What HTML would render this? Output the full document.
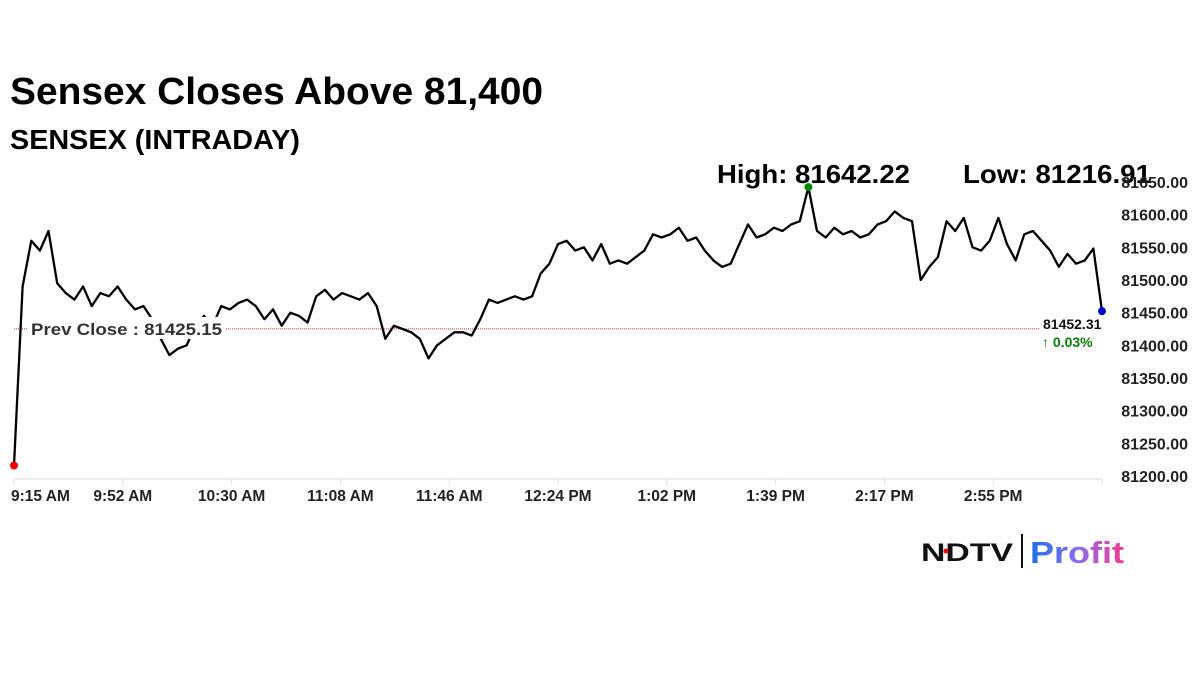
<!DOCTYPE html>
<html><head><meta charset="utf-8">
<style>
html,body{margin:0;padding:0;background:#fff;width:1200px;height:675px;overflow:hidden;font-family:"Liberation Sans",sans-serif}
</style></head>
<body>
<svg id="chart" width="1200" height="675" viewBox="0 0 1200 675" xmlns="http://www.w3.org/2000/svg">
<text x="10" y="104" font-family="Liberation Sans, sans-serif" font-weight="bold" font-size="38" textLength="533" lengthAdjust="spacingAndGlyphs" fill="#000">Sensex Closes Above 81,400</text>
<text x="10" y="149" font-weight="bold" font-size="28" textLength="290" lengthAdjust="spacingAndGlyphs" fill="#000">SENSEX (INTRADAY)</text>
<text x="717" y="183" font-weight="bold" font-size="26" textLength="193" lengthAdjust="spacingAndGlyphs" fill="#000">High: 81642.22</text>
<text x="963" y="183" font-weight="bold" font-size="26" textLength="188" lengthAdjust="spacingAndGlyphs" fill="#000">Low: 81216.91</text>
<g id="axes"></g>
<g id="plot"></g>
<g>
<defs><linearGradient id="pg" x1="0" x2="1" y1="0" y2="0"><stop offset="0" stop-color="#1a73e8"/><stop offset="0.5" stop-color="#8a6cf0"/><stop offset="1" stop-color="#f03c8c"/></linearGradient></defs>
<text x="921" y="561" font-weight="bold" font-size="25" textLength="92" lengthAdjust="spacingAndGlyphs" fill="#111">NDTV</text>
<circle cx="946" cy="551" r="2.5" fill="#e00"/>
<rect x="1021" y="534" width="2" height="34" fill="#111"/>
<text x="1030" y="563" font-weight="bold" font-size="31" textLength="94" lengthAdjust="spacingAndGlyphs" fill="url(#pg)">Profit</text>
</g>
</svg>
<script>
const values = [81216,81490,81560,81545,81575,81495,81480,81470,81490,81460,81480,81475,81490,81470,81455,81460,81440,81410,81385,81395,81400,81430,81445,81430,81460,81455,81465,81470,81460,81440,81455,81430,81450,81445,81435,81475,81485,81470,81480,81475,81470,81480,81460,81410,81430,81425,81420,81410,81380,81400,81410,81420,81420,81415,81440,81470,81465,81470,81475,81470,81475,81510,81525,81555,81560,81545,81550,81530,81555,81525,81530,81525,81535,81545,81570,81565,81570,81580,81560,81565,81545,81530,81520,81525,81555,81585,81565,81570,81580,81575,81585,81590,81642.22,81575,81565,81580,81570,81575,81565,81570,81585,81590,81605,81595,81590,81500,81520,81535,81590,81575,81595,81550,81545,81560,81595,81555,81530,81570,81575,81560,81545,81520,81540,81525,81530,81548,81452.31];
const yTicks = [81200,81250,81300,81350,81400,81450,81500,81550,81600,81650];
const xTickLabels = ["9:15 AM","9:52 AM","10:30 AM","11:08 AM","11:46 AM","12:24 PM","1:02 PM","1:39 PM","2:17 PM","2:55 PM"];
const prevClose = 81425.15;
const changeLabel = "\u2191 0.03%";

const NS="http://www.w3.org/2000/svg";
const x0=14,x1=1102,yMin=81200,yMax=81650,py0=476,py1=182;
const xs=i=>x0+(x1-x0)*i/(values.length-1);
const ys=v=>py0+(v-yMin)*(py1-py0)/(yMax-yMin);
function mk(tag,attrs,parent,text){const e=document.createElementNS(NS,tag);for(const k in attrs)e.setAttribute(k,attrs[k]);if(text!==undefined)e.textContent=text;parent.appendChild(e);return e;}
const axes=document.getElementById('axes'),plot=document.getElementById('plot');
const ax=mk('line',{x1:x0,x2:x1,y1:479,y2:479,stroke:'#ddd','stroke-width':1},axes);


yTicks.forEach(v=>{
  const t=mk('text',{x:1188,y:ys(v)+6,'text-anchor':'end','font-size':16,'font-weight':'bold',fill:'#222'},axes,v.toFixed(2));
  
  
});
xTickLabels.forEach((s,i)=>{
  const x=x0+(x1-x0)*i/10;
  const tk=mk('line',{x1:x,x2:x,y1:479,y2:485,stroke:'#ddd'},axes);
  
  
  const t=mk('text',{x:i===0?x-3:x,y:501,'text-anchor':i===0?'start':'middle','font-size':15.5,'font-weight':'bold',fill:'#222'},axes,s);
  
  
});
const endTick=mk('line',{x1:x1,x2:x1,y1:479,y2:485,stroke:'#ddd'},axes);


const pc=mk('line',{x1:x0,x2:1040,y1:ys(prevClose),y2:ys(prevClose),stroke:'#b33','stroke-width':1,'stroke-dasharray':'1,1'},plot);


const d=values.map((v,i)=>(i?'L':'M')+xs(i).toFixed(1)+','+ys(v).toFixed(1)).join('');
const ln=mk('path',{d:d,fill:'none',stroke:'#000','stroke-width':2.3,'stroke-linejoin':'round'},plot);


const bg=mk('rect',{x:27,y:ys(prevClose)-12,width:198,height:22,fill:'#fff'},plot);


const pl=mk('text',{x:31,y:ys(prevClose)+6,'font-size':16.5,'font-weight':'bold',fill:'#333',textLength:191,lengthAdjust:'spacingAndGlyphs'},plot,'Prev Close : '+prevClose.toFixed(2));


let lo=0,hi=0;values.forEach((v,i)=>{if(v<values[lo])lo=i;if(v>values[hi])hi=i;});
const ml=mk('circle',{cx:xs(lo),cy:ys(values[lo]),r:4,fill:'#e00'},plot);


const mh=mk('circle',{cx:xs(hi),cy:ys(values[hi]),r:4,fill:'#080'},plot);


const last=values.length-1;
const me=mk('circle',{cx:xs(last),cy:ys(values[last]),r:4,fill:'#00c'},plot);


const lv=mk('text',{x:1043,y:329,'font-size':14,'font-weight':'bold',fill:'#111'},plot,values[last].toFixed(2));


const cl=mk('text',{x:1042,y:347,'font-size':14,'font-weight':'bold',fill:'#0a7a0a'},plot,changeLabel);


</script>
</body></html>
